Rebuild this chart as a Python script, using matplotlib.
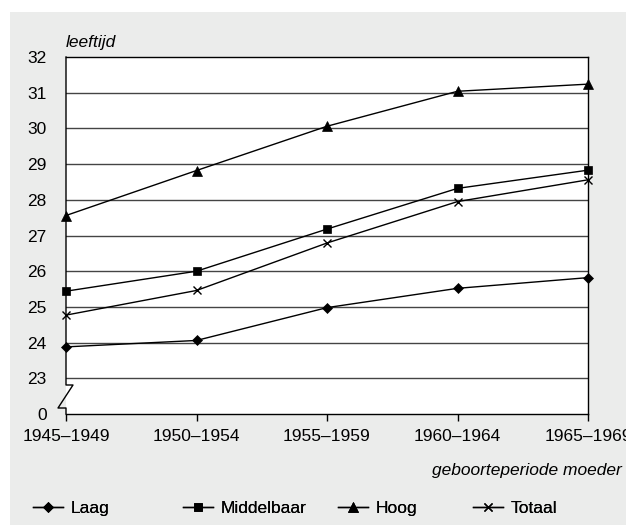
import matplotlib.pyplot as plt
from matplotlib.patches import Rectangle
from matplotlib.lines import Line2D

plt.rcParams['font.family'] = ['Liberation Sans', 'DejaVu Sans']

periods = ["1945–1949", "1950–1954", "1955–1959", "1960–1964", "1965–1969"]
laag = [23.88, 24.06, 24.98, 25.52, 25.82]
middelbaar = [25.44, 26.0, 27.18, 28.32, 28.83]
hoog = [27.56, 28.82, 30.06, 31.04, 31.24]
totaal = [24.77, 25.46, 26.79, 27.95, 28.56]

ytick_vals = [22, 23, 24, 25, 26, 27, 28, 29, 30, 31, 32]
ytick_labels = ["0", "23", "24", "25", "26", "27", "28", "29", "30", "31", "32"]

W, H = 626, 525
fig = plt.figure(figsize=(W / 100, H / 100), dpi=100)
fig.patch.set_facecolor("white")
fig.add_artist(Rectangle((10 / W, 0), 1, 1 - 12 / H, transform=fig.transFigure,
                         facecolor="#ebeceb", edgecolor="none", zorder=0))

ax = fig.add_axes([66 / W, 1 - 414 / H, 522 / W, 357 / H])
ax.set_facecolor("white")
x = list(range(len(periods)))

lines = []
for vals, m, ms, lab in [(laag, "D", 5.5, "Laag"), (middelbaar, "s", 6, "Middelbaar"),
                         (hoog, "^", 7, "Hoog"), (totaal, "x", 6, "Totaal")]:
    ln, = ax.plot(x, vals, color="black", lw=1, marker=m, markersize=ms,
                  markeredgewidth=1 if m == "x" else 0.5, label=lab, zorder=3,
                  clip_on=False)
    lines.append(ln)

for v in ytick_vals[1:-1]:
    ax.axhline(v, color="#444444", lw=1, zorder=1)

ax.set_xlim(0, 4)
ax.set_ylim(22, 32)
ax.set_yticks(ytick_vals)
ax.set_yticklabels(ytick_labels, fontsize=12.5)
ax.set_xticks(x)
ax.set_xticklabels(periods, fontsize=12.5)
ax.tick_params(axis="y", length=0, pad=14)
ax.tick_params(axis="x", length=5, width=1, pad=6, direction="out")

ax.spines["left"].set_visible(False)
for s in ["top", "right", "bottom"]:
    ax.spines[s].set_color("black")
    ax.spines[s].set_linewidth(1)

# left axis with break
px = 4 / 522  # one pixel in x data units
py = 10 / 357  # one pixel in y data units
bx = [0, 0, 7 * px, -8 * px, 0, 0]
by = [32, 32 - 328 * py, 32 - 328 * py, 32 - 351 * py, 32 - 351 * py, 22]
ax.add_line(Line2D(bx, by, color="black", lw=1, clip_on=False, zorder=4))

ax.text(0, 1.02, "leeftijd", transform=ax.transAxes, fontsize=12.5,
        style="italic", ha="left", va="bottom")
fig.text(622 / W, 1 - 470 / H, "geboorteperiode moeder", fontsize=12.5,
         style="italic", ha="right", va="center")

# legend entries at fixed positions
leg_x = [33, 183, 338, 473]
for ln, lx in zip(lines, leg_x):
    lg = fig.legend(handles=[ln], loc="center left",
                    bbox_to_anchor=(lx / W, 1 - 508 / H), frameon=False,
                    fontsize=12.5, handlelength=1.75, handletextpad=0.4,
                    borderpad=0, borderaxespad=0)
    fig.add_artist(lg)

fig.savefig("out.png", dpi=100, facecolor=fig.get_facecolor())
